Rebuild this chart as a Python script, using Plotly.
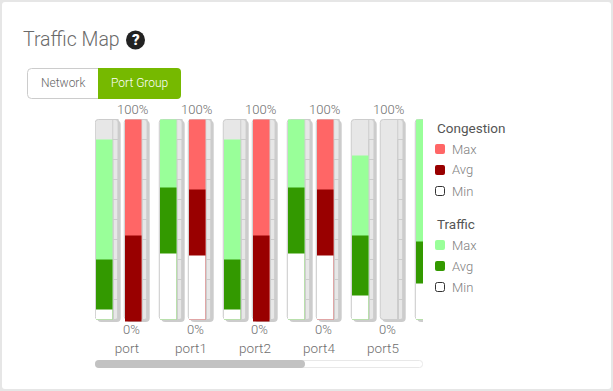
import plotly.graph_objects as go

PORTS = ["port", "port1", "port2", "port4", "port5", ""]
TRAFFIC_MAX = [90, 100, 90, 100, 82, 100]
TRAFFIC_AVG = [30, 66, 30, 66, 42, 39]
TRAFFIC_MIN = [5, 33, 5, 33, 12, 18]
CONGESTION_MAX = [100, 100, 100, 100, 0, 0]
CONGESTION_AVG = [42, 65, 42, 65, 0, 0]
CONGESTION_MIN = [0, 32, 0, 32, 0, 0]
SHOWN_LABELS = PORTS[:5]
TOP_LABEL = "100%"
BOTTOM_LABEL = "0%"
LEGEND_GROUPS = ["Congestion", "Traffic"]
LEGEND_ITEMS = ["Max", "Avg", "Min"]

W, H = 613, 391
PITCH = 64.0
LEFT, RIGHT, TOP, BOTTOM = 95, 423, 116, 324
TEXT = "#6e6e6e"
FONT = "Roboto"
FRAME = "#e7e7e7"
EDGE = "#cccccc"
RED, DARK_RED = "#ff6666", "#990000"
LIGHT_GREEN, GREEN = "#99ff99", "#339900"


def px(v):
    return v / W


def py(v):
    return 1 - v / H


def u(v):
    return v / PITCH


n = len(PORTS)
idx = list(range(n))
fig = go.Figure()


def bars(offset, width, y, color, base=0, line=None, radius=0, shift=0):
    fig.add_trace(go.Bar(
        x=[i + u(offset + shift) for i in idx], y=y, base=base, width=u(width),
        marker=dict(color=color, cornerradius=radius,
                    line=dict(color=line or color, width=1 if line else 0)),
        showlegend=False, hoverinfo="skip"))


def group(inner_center, gutter_center, maxv, avgv, minv, max_color, avg_color):
    frame_center = inner_center + 2.5
    full = [100] * n
    bars(frame_center, 23.5, [100.75] * n, EDGE, base=-1.25, radius=4, shift=2.2)
    bars(frame_center, 23, full, FRAME, line=EDGE, radius=3)
    # gutter ticks, one outlined bar per decile (the top one gives the full separator)
    for level in range(10, 101, 10):
        bars(gutter_center, 5.5, [level] * n, "rgba(0,0,0,0)", line=EDGE)
    bars(inner_center, 16.5, [v if v else None for v in maxv], max_color)
    avg_base = [-1 if m == 0 else 0 for m in minv]
    avg_len = [(a - b) if a else None for a, b in zip(avgv, avg_base)]
    bars(inner_center, 16.5, avg_len, avg_color, base=avg_base)
    mn = [m if m else None for m in minv]
    bars(inner_center, 16.5, mn, "#ffffff")


group(9.25, 20.5, TRAFFIC_MAX, TRAFFIC_AVG, TRAFFIC_MIN, LIGHT_GREEN, GREEN)
group(38.25, 49.5, CONGESTION_MAX, CONGESTION_AVG, CONGESTION_MIN, RED, DARK_RED)

ann = []
for i in range(len(SHOWN_LABELS)):
    c = i + u(37)
    ann.append(dict(x=c, y=100, xref="x", yref="y", text=TOP_LABEL, showarrow=False,
                    yshift=10, font=dict(size=13, color=TEXT, family=FONT, weight=300)))
    ann.append(dict(x=c - u(0.5), y=0, xref="x", yref="y", text=BOTTOM_LABEL, showarrow=False,
                    yshift=-10, font=dict(size=13, color=TEXT, family=FONT, weight=300)))


def txt(x, y, s, size, color=TEXT, anchor="left", weight=None):
    ann.append(dict(x=px(x), y=py(y), xref="paper", yref="paper", text=s, showarrow=False,
                    xanchor=anchor, yanchor="middle", xshift=0,
                    font=dict(size=size, color=color, family=FONT, weight=weight)))


def rrect(x0, y0, x1, y1, rl=0, rr=0, fill="#ffffff", line=None, width=1, layer="below"):
    X0, X1, Y0, Y1 = px(x0), px(x1), py(y0), py(y1)
    def dx(r): return r / W
    def dy(r): return r / H
    path = (f"M {X0+dx(rl)} {Y0} L {X1-dx(rr)} {Y0} Q {X1} {Y0} {X1} {Y0-dy(rr)} "
            f"L {X1} {Y1+dy(rr)} Q {X1} {Y1} {X1-dx(rr)} {Y1} L {X0+dx(rl)} {Y1} "
            f"Q {X0} {Y1} {X0} {Y1+dy(rl)} L {X0} {Y0-dy(rl)} Q {X0} {Y0} {X0+dx(rl)} {Y0} Z")
    return dict(type="path", path=path, xref="paper", yref="paper", fillcolor=fill, layer=layer,
                line=dict(color=line or fill, width=width if line else 0))


shapes = [rrect(2, 2, 611, 389, 3, 3, "#ffffff")]
# title and help icon
txt(21, 40, "Traffic Map", 19.5, "#6a6a6a", weight=300)
shapes.append(dict(type="circle", xref="paper", yref="paper", x0=px(126), x1=px(145), y0=py(49.5), y1=py(30.5),
                   fillcolor="#222222", line=dict(width=0), layer="below"))
txt(135.5, 40, "?", 15, "#ffffff", "center", weight=900)
# toggle
shapes.append(rrect(27.5, 68.5, 100, 98.5, 4, 0, "#ffffff", EDGE))
shapes.append(rrect(98, 68, 181, 99, 0, 4, "#76b900"))
txt(63, 83, "Network", 12, "#666666", "center", weight=300)
txt(139.5, 83, "Port Group", 12, "#ffffff", "center", weight=300)
# scrollbar
shapes.append(rrect(95.5, 360.5, 422.5, 367.5, 3, 3, "#ffffff", "#e8e8e8"))
shapes.append(rrect(95, 360, 305, 368, 4, 4, "#c2c2c2"))
# legend
for name, y_title, colors in [(LEGEND_GROUPS[0], 128, (RED, DARK_RED)),
                              (LEGEND_GROUPS[1], 224, (LIGHT_GREEN, GREEN))]:
    txt(434.5, y_title, name, 13.5, "#555555", weight=400)
    for j, item in enumerate(LEGEND_ITEMS):
        yc = y_title + 21 + 21 * j
        if j < 2:
            shapes.append(rrect(435, yc - 5, 445, yc + 5, 2, 2, colors[j]))
        else:
            shapes.append(rrect(435.5, yc - 4.5, 444.5, yc + 4.5, 2, 2, "#ffffff", "#333333"))
        txt(449.5, yc, item, 13, "#808080", weight=300)

fig.update_layout(
    width=W, height=H, autosize=False, margin=dict(l=0, r=0, t=0, b=0),
    paper_bgcolor="#e6e6e6", plot_bgcolor="rgba(0,0,0,0)", barmode="overlay", hovermode=False,
    shapes=shapes, annotations=ann,
    xaxis=dict(domain=[px(LEFT), px(RIGHT)], range=[0, u(RIGHT - LEFT)], tickmode="array",
               tickvals=[i + u(32) for i in idx], ticktext=PORTS, ticks="", showgrid=False,
               zeroline=False, showline=False, ticklabelstandoff=14,
               tickfont=dict(size=13.5, color=TEXT, family=FONT, weight=300)),
    yaxis=dict(domain=[py(BOTTOM), py(TOP)], range=[(319.5 - BOTTOM) / 2, (319.5 - TOP) / 2],
               visible=False),
)
fig.write_html("out.html", config={"displayModeBar": False},
               post_script="document.body.style.margin='0';document.body.style.overflow='hidden';")
